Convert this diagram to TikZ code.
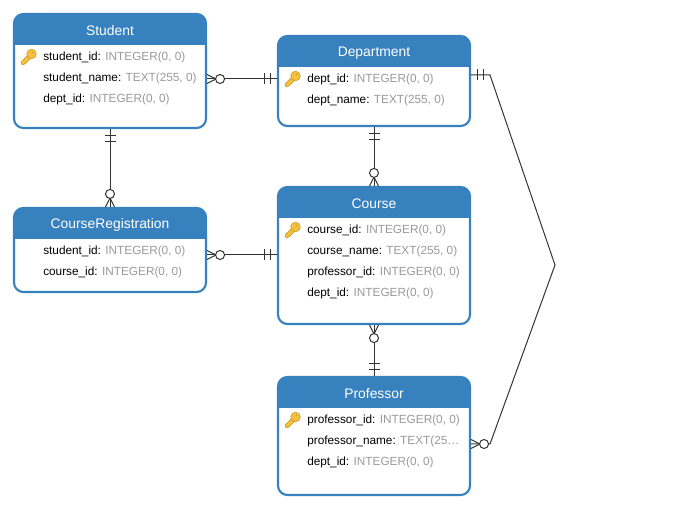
\documentclass[tikz,border=0pt]{standalone}
\usepackage{fontspec}
\setmainfont{Liberation Sans}
\usepackage{xcolor}
\usetikzlibrary{fit}
\definecolor{headblue}{HTML}{3781BF}
\definecolor{typegray}{HTML}{9A9A9A}
\definecolor{linegray}{HTML}{333333}
\definecolor{keygold}{HTML}{F4C13D}
\definecolor{keyedge}{HTML}{C9962A}
\newcommand{\fieldtype}[1]{\textcolor{typegray}{#1}}
\newcommand{\titleheight}{23.25pt}
\tikzset{
    tablebox/.style={draw=headblue,line width=1.6pt,fill=white,rounded corners=7pt,inner sep=0pt,
        path picture={\fill[headblue,sharp corners] (path picture bounding box.north west) rectangle
            ([yshift=-\titleheight]path picture bounding box.north east);}},
    tabletitle/.style={text=white,font=\fontsize{10.4}{12}\selectfont,inner sep=0pt},
    fieldrow/.style={anchor=base west,inner sep=0pt,font=\fontsize{8.85}{10}\selectfont},
    rel/.style={draw=linegray,line width=.75pt},
    onemark/.pic={
        \draw[rel] (6,-5.5) -- (6,5.5);
        \draw[rel] (12,-5.5) -- (12,5.5);
    },
    manymark/.pic={
        \draw[rel] (0,-4.5) -- (9,0) -- (0,4.5);
        \draw[rel,fill=white] (13,0) circle (4.5);
    },
    keyicon/.pic={
        \draw[keyedge,fill=keygold,line width=.4pt,rounded corners=.5pt]
            (-1.5,-1.5) -- (-8,5) -- (-7,8) -- (-4,7) -- (1.5,1.5) -- cycle;
        \draw[keyedge,fill=keygold,line width=.4pt] (2.5,-3) circle (4.8);
        \fill[keyedge] (3.5,-4.5) circle (.9);
    }
}

\begin{document}
\begin{tikzpicture}[x=.75pt,y=-.75pt]
    \useasboundingbox (0,0) rectangle (676,509);

    \coordinate (bend) at (555,265);
    \begin{scope}[every node/.style={tablebox}]
        \node[fit={(14,14) (206,128)}] (student) {};
        \node[fit={(278,36) (470,126)}] (department) {};
        \node[fit={(14,208) (206,292)}] (registration) {};
        \node[fit={(278,187) (470,324)}] (course) {};
        \node[fit={(278,377) (470,495)}] (professor) {};
    \end{scope}

    \begin{scope}[every node/.style={tabletitle}]
        \node (studenttitle) at (110,31) {Student};
        \node (departmenttitle) at (374,53) {Department};
        \node (registrationtitle) at (110,225) {CourseRegistration};
        \node (coursetitle) at (374,204) {Course};
        \node (professortitle) at (374,394) {Professor};
    \end{scope}

    \begin{scope}[every node/.style={fieldrow}]
        \node (s1) at (43,61) {student\_id: \fieldtype{INTEGER(0, 0)}};
        \node (s2) at (43,82) {student\_name: \fieldtype{TEXT(255, 0)}};
        \node (s3) at (43,103) {dept\_id: \fieldtype{INTEGER(0, 0)}};

        \node (d1) at (307,83) {dept\_id: \fieldtype{INTEGER(0, 0)}};
        \node (d2) at (307,104) {dept\_name: \fieldtype{TEXT(255, 0)}};

        \node (r1) at (43,255) {student\_id: \fieldtype{INTEGER(0, 0)}};
        \node (r2) at (43,276) {course\_id: \fieldtype{INTEGER(0, 0)}};

        \node (c1) at (307,234) {course\_id: \fieldtype{INTEGER(0, 0)}};
        \node (c2) at (307,255) {course\_name: \fieldtype{TEXT(255, 0)}};
        \node (c3) at (307,276) {professor\_id: \fieldtype{INTEGER(0, 0)}};
        \node (c4) at (307,297) {dept\_id: \fieldtype{INTEGER(0, 0)}};

        \node (p1) at (307,424) {professor\_id: \fieldtype{INTEGER(0, 0)}};
        \node (p2) at (307,445) {professor\_name: \fieldtype{TEXT(25…}};
        \node (p3) at (307,466) {dept\_id: \fieldtype{INTEGER(0, 0)}};
    \end{scope}

    \pic at (29,57) {keyicon};
    \pic at (293,79) {keyicon};
    \pic at (293,230) {keyicon};
    \pic at (293,420) {keyicon};

    \begin{scope}[rel]
        \draw (student.east |- 0,79) -- (department.west |- 0,79);
        \draw (student.south) -- (registration.north);
        \draw (registration.east |- 0,255) -- (course.west |- 0,255);
        \draw (department.south) -- (course.north);
        \draw (course.south) -- (professor.north);
        \draw (department.east |- 0,75) -- (490,75) -- (bend) -- (490,444) -- (professor.east |- 0,444);

        % student - department
        \pic at (student.east |- 0,79) {manymark};
        \pic[rotate=180] at (department.west |- 0,79) {onemark};
        % student - registration
        \pic[rotate=-90] at (student.south) {onemark};
        \pic[rotate=90] at (registration.north) {manymark};
        % registration - course
        \pic at (registration.east |- 0,255) {manymark};
        \pic[rotate=180] at (course.west |- 0,255) {onemark};
        % department - course
        \pic[rotate=-90] at (department.south) {onemark};
        \pic[rotate=90] at (course.north) {manymark};
        % course - professor
        \pic[rotate=-90] at (course.south) {manymark};
        \pic[rotate=90] at (professor.north) {onemark};
        % department - professor
        \pic at (department.east |- 0,75) {onemark};
        \pic at (professor.east |- 0,444) {manymark};
    \end{scope}
\end{tikzpicture}
\end{document}
